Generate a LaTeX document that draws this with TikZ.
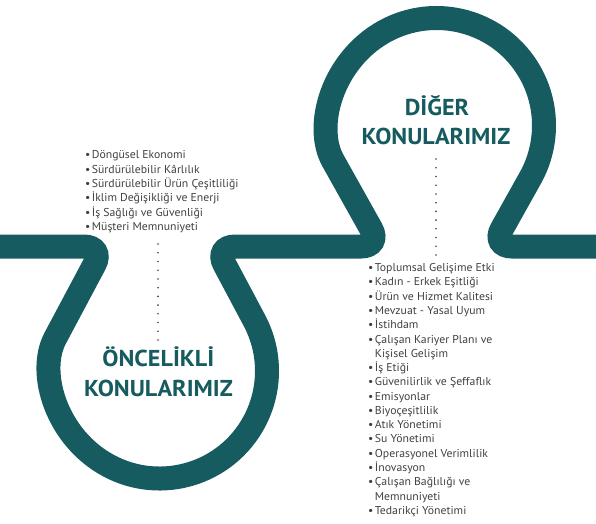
\documentclass[tikz,border=0pt]{standalone}
\usepackage{fontspec}
\setmainfont{PT Sans}
\newfontfamily\headfont[FakeStretch=1.05]{PT Sans}
\newfontfamily\listfont[FakeStretch=1.03]{PT Sans}
\usetikzlibrary{calc}
\definecolor{teal1}{HTML}{165B60}
\definecolor{txt}{HTML}{404040}
\begin{document}
\begin{tikzpicture}[x=1pt,y=1pt,
  ring/.style={draw=teal1, line width=24pt},
  head/.style={text=teal1, font=\headfont\bfseries\fontsize{23}{26}\selectfont, anchor=base, inner sep=0pt},
  lst/.style={text=txt, font=\listfont\fontsize{11.4}{14.27}\selectfont, anchor=base west, inner sep=0pt},
  dotfill/.style={fill=txt}]
\useasboundingbox (0,0) rectangle (596,523);
\coordinate (cl) at (159.5,152);
\coordinate (cr) at (436.5,397.5);
\coordinate (s0) at (0,276.5);
\coordinate (pl1) at (104,276.5);
\coordinate (pl2) at (215,276.5);
\coordinate (pr1) at (381,276.5);
\coordinate (pr2) at (492,276.5);
\coordinate (s1) at (596,276.5);
\coordinate (tl1) at ($(cl)+(151.97:107.5)$);
\coordinate (tr1) at ($(cr)+(209.3:107.5)$);
\draw[ring] (s0) [rounded corners=20pt] -- (pl1) -- (tl1) [sharp corners]
  arc[start angle=151.97, end angle=388.03, radius=107.5]
  [rounded corners=20pt] -- (pl2) -- (pr1) -- (tr1) [sharp corners]
  arc[start angle=209.3, end angle=-29.3, radius=107.5]
  [rounded corners=20pt] -- (pr2) -- (s1);
% dotted guides
\foreach \i in {0,...,11} {
  \fill[dotfill] (158,279-8.73*\i) circle (0.9pt);
  \fill[dotfill] (436,364-8.73*\i) circle (0.9pt);
}
% headings
\node[head] (h1a) at (158.3,156.3) {ÖNCELİKLİ};
\node[head] (h1b) at (158.5,126.3) {KONULARIMIZ};
\node[head] (h2a) at (437,407) {DİĞER};
\node[head] (h2b) at (436,378.7) {KONULARIMIZ};
% lists
\node[lst] (l1) at (85,364) {\begin{tabular}[t]{@{}l@{\hspace{1.4pt}}l@{}}
•&Döngüsel Ekonomi\\
•&Sürdürülebilir Kârlılık\\
•&Sürdürülebilir Ürün Çeşitliliği\\
•&İklim Değişikliği ve Enerji\\
•&İş Sağlığı ve Güvenliği\\
•&Müşteri Memnuniyeti
\end{tabular}};
\node[lst] (l2) at (368,251.3) {\begin{tabular}[t]{@{}l@{\hspace{1.4pt}}l@{}}
•&Toplumsal Gelişime Etki\\
•&Kadın - Erkek Eşitliği\\
•&Ürün ve Hizmet Kalitesi\\
•&Mevzuat - Yasal Uyum\\
•&İstihdam\\
•&Çalışan Kariyer Planı ve\\
&Kişisel Gelişim\\
•&İş Etiği\\
•&Güvenilirlik ve Şeffaflık\\
•&Emisyonlar\\
•&Biyoçeşitlilik\\
•&Atık Yönetimi\\
•&Su Yönetimi\\
•&Operasyonel Verimlilik\\
•&İnovasyon\\
•&Çalışan Bağlılığı ve\\
&Memnuniyeti\\
•&Tedarikçi Yönetimi
\end{tabular}};
\end{tikzpicture}
\end{document}
